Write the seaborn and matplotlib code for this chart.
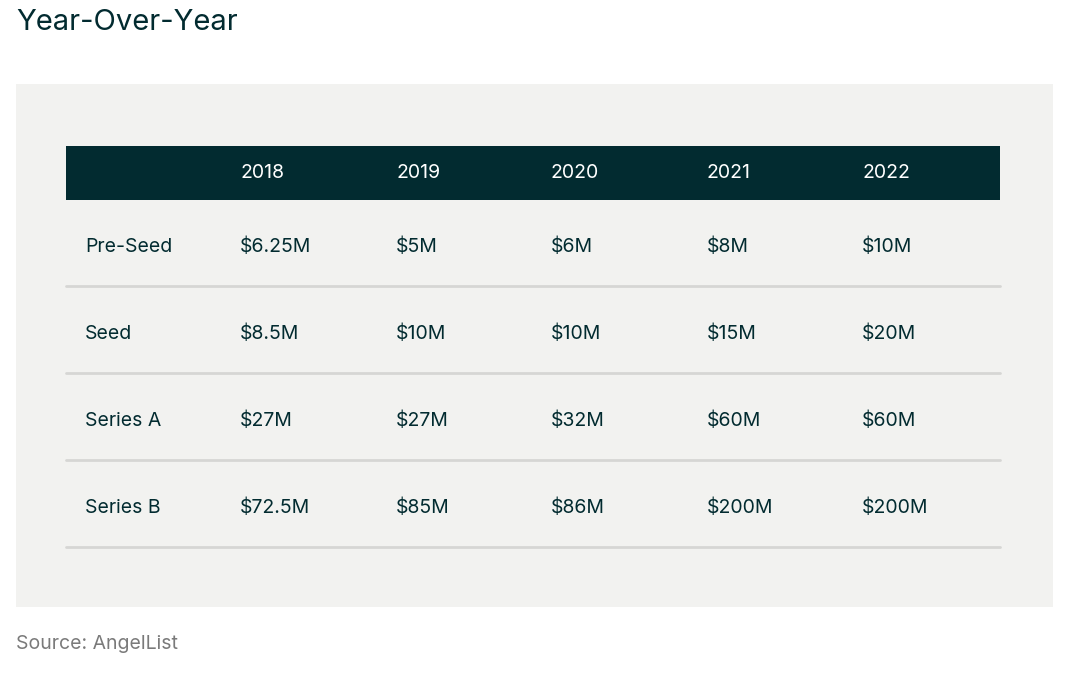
import seaborn as sns
import matplotlib.pyplot as plt
from matplotlib.patches import Rectangle

years = ["2018", "2019", "2020", "2021", "2022"]
stages = ["Pre-Seed", "Seed", "Series A", "Series B"]
pre_seed = ["$6.25M", "$5M", "$6M", "$8M", "$10M"]
seed = ["$8.5M", "$10M", "$10M", "$15M", "$20M"]
series_a = ["$27M", "$27M", "$32M", "$60M", "$60M"]
series_b = ["$72.5M", "$85M", "$86M", "$200M", "$200M"]
values = [pre_seed, seed, series_a, series_b]

sns.set_theme(style="white")
plt.rcParams["font.family"] = ["Inter", "DejaVu Sans"]

dark = "#022b30"
fig = plt.figure(figsize=(10.78, 6.76), dpi=100)
ax = fig.add_axes([0, 0, 1, 1])
ax.set_xlim(0, 1078); ax.set_ylim(676, 0); ax.axis("off")

ax.text(16, 22, "Year-Over-Year", fontsize=21, color=dark, va="center")
ax.add_patch(Rectangle((16, 84), 1037, 523, color="#f2f2f0", lw=0))
ax.add_patch(Rectangle((66, 146), 934, 54, color=dark, lw=0))

col_x = [240, 396, 551, 707, 862]
for x, y in zip(col_x, years):
    ax.text(x, 173, y, fontsize=14, color="white", va="center")

row_y = [247, 334, 421, 508]
for ry, stage, vals in zip(row_y, stages, values):
    ax.text(85, ry, stage, fontsize=14, color=dark, va="center")
    for x, v in zip(col_x, vals):
        ax.text(x, ry, v, fontsize=14, color=dark, va="center")
    ax.plot([66, 1000], [ry + 39, ry + 39], color="#d6d6d4", lw=2)

ax.text(16, 644, "Source: AngelList", fontsize=14, color="#7a7a7a", va="center")
fig.savefig("out.png", dpi=100)
